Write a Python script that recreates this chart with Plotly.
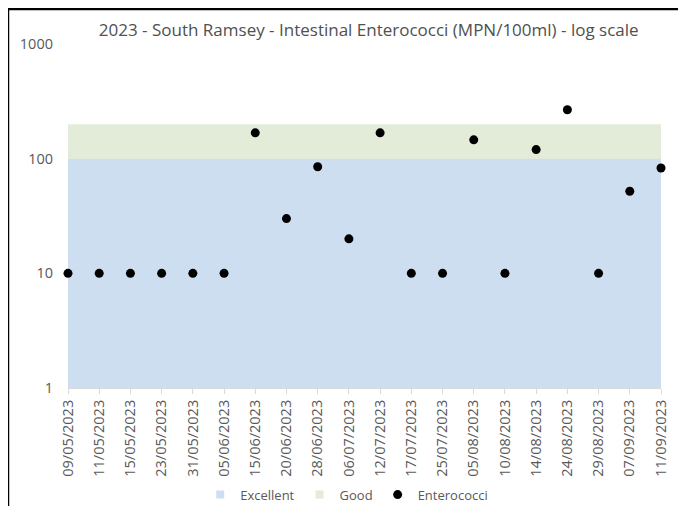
import plotly.graph_objects as go

# Data
dates = ['09/05/2023', '11/05/2023', '15/05/2023', '23/05/2023', '31/05/2023',
         '05/06/2023', '15/06/2023', '20/06/2023', '28/06/2023', '06/07/2023',
         '12/07/2023', '17/07/2023', '25/07/2023', '05/08/2023', '10/08/2023',
         '14/08/2023', '24/08/2023', '29/08/2023', '07/09/2023', '11/09/2023']
enterococci = [10, 10, 10, 10, 10, 10, 168, 30, 85, 20,
               168, 10, 10, 146, 10, 120, 267, 10, 52, 83]
excellent_limit = [100] * len(dates)
good_limit = [200] * len(dates)
baseline = [1] * len(dates)

grey = '#595959'
blue = '#CEDEF1'
green = '#E2ECD8'

fig = go.Figure()

# invisible baseline so the bands fill from 1 on the log axis
fig.add_trace(go.Scatter(x=dates, y=baseline, mode='lines', line=dict(width=0),
                         showlegend=False, hoverinfo='skip'))
fig.add_trace(go.Scatter(x=dates, y=excellent_limit, name='Excellent', mode='lines',
                         line=dict(width=0), fill='tonexty', fillcolor=blue,
                         showlegend=False))
fig.add_trace(go.Scatter(x=dates, y=good_limit, name='Good', mode='lines',
                         line=dict(width=0), fill='tonexty', fillcolor=green,
                         showlegend=False))

# small square legend keys like the Excel legend
fig.add_trace(go.Scatter(x=[None], y=[None], name='Excellent', mode='markers',
                         marker=dict(symbol='square', color=blue, size=8)))
fig.add_trace(go.Scatter(x=[None], y=[None], name='Good', mode='markers',
                         marker=dict(symbol='square', color=green, size=8)))

fig.add_trace(go.Scatter(x=dates, y=enterococci, name='Enterococci', mode='markers',
                         marker=dict(color='black', size=9), cliponaxis=False))

# page body has an 8px margin, so the figure is 8px smaller and shifted
fig.update_layout(
    width=678, height=498,
    margin=dict(l=60, r=25, t=36, b=118, autoexpand=False),
    paper_bgcolor='white', plot_bgcolor='white',
    font=dict(family='Open Sans, Liberation Sans, sans-serif', color=grey),
    title=dict(text='2023 - South Ramsey - Intestinal Enterococci (MPN/100ml) - log scale',
               x=0.532, xanchor='center', y=0.955, yanchor='middle',
               font=dict(size=17, color='#505050')),
    legend=dict(orientation='h', x=0.47, xanchor='center', y=-0.31, yanchor='middle',
                font=dict(size=13, color=grey), itemwidth=30, traceorder='normal',
                bgcolor='rgba(0,0,0,0)'),
    showlegend=True,
)

fig.update_xaxes(
    type='category', range=[0, len(dates) - 1], automargin=False,
    tickangle=-90, tickfont=dict(size=14.5, color=grey),
    showgrid=False, showline=True, linecolor='#D9D9D9', linewidth=1,
    ticks='outside', ticklen=5, tickcolor='#D9D9D9',
)
fig.update_yaxes(
    type='log', range=[0, 3], dtick=1, automargin=False,
    tickvals=[1, 10, 100, 1000], ticktext=['1', '10', '100', '1000'],
    tickfont=dict(size=14.5, color=grey),
    showgrid=True, gridcolor='#E6E6E6', zeroline=False, showline=False,
    ticks='', ticklabelstandoff=14,
)

# black frame around the chart (left, top and right edges only)
fig.add_shape(type='path', xref='paper', yref='paper',
              path='M -0.1012,-0.36 L -0.1012,1.1017 L 1.0337,1.1017 L 1.0337,-0.36',
              line=dict(color='black', width=2.5), layer='above')

fig.write_html('out.html')
